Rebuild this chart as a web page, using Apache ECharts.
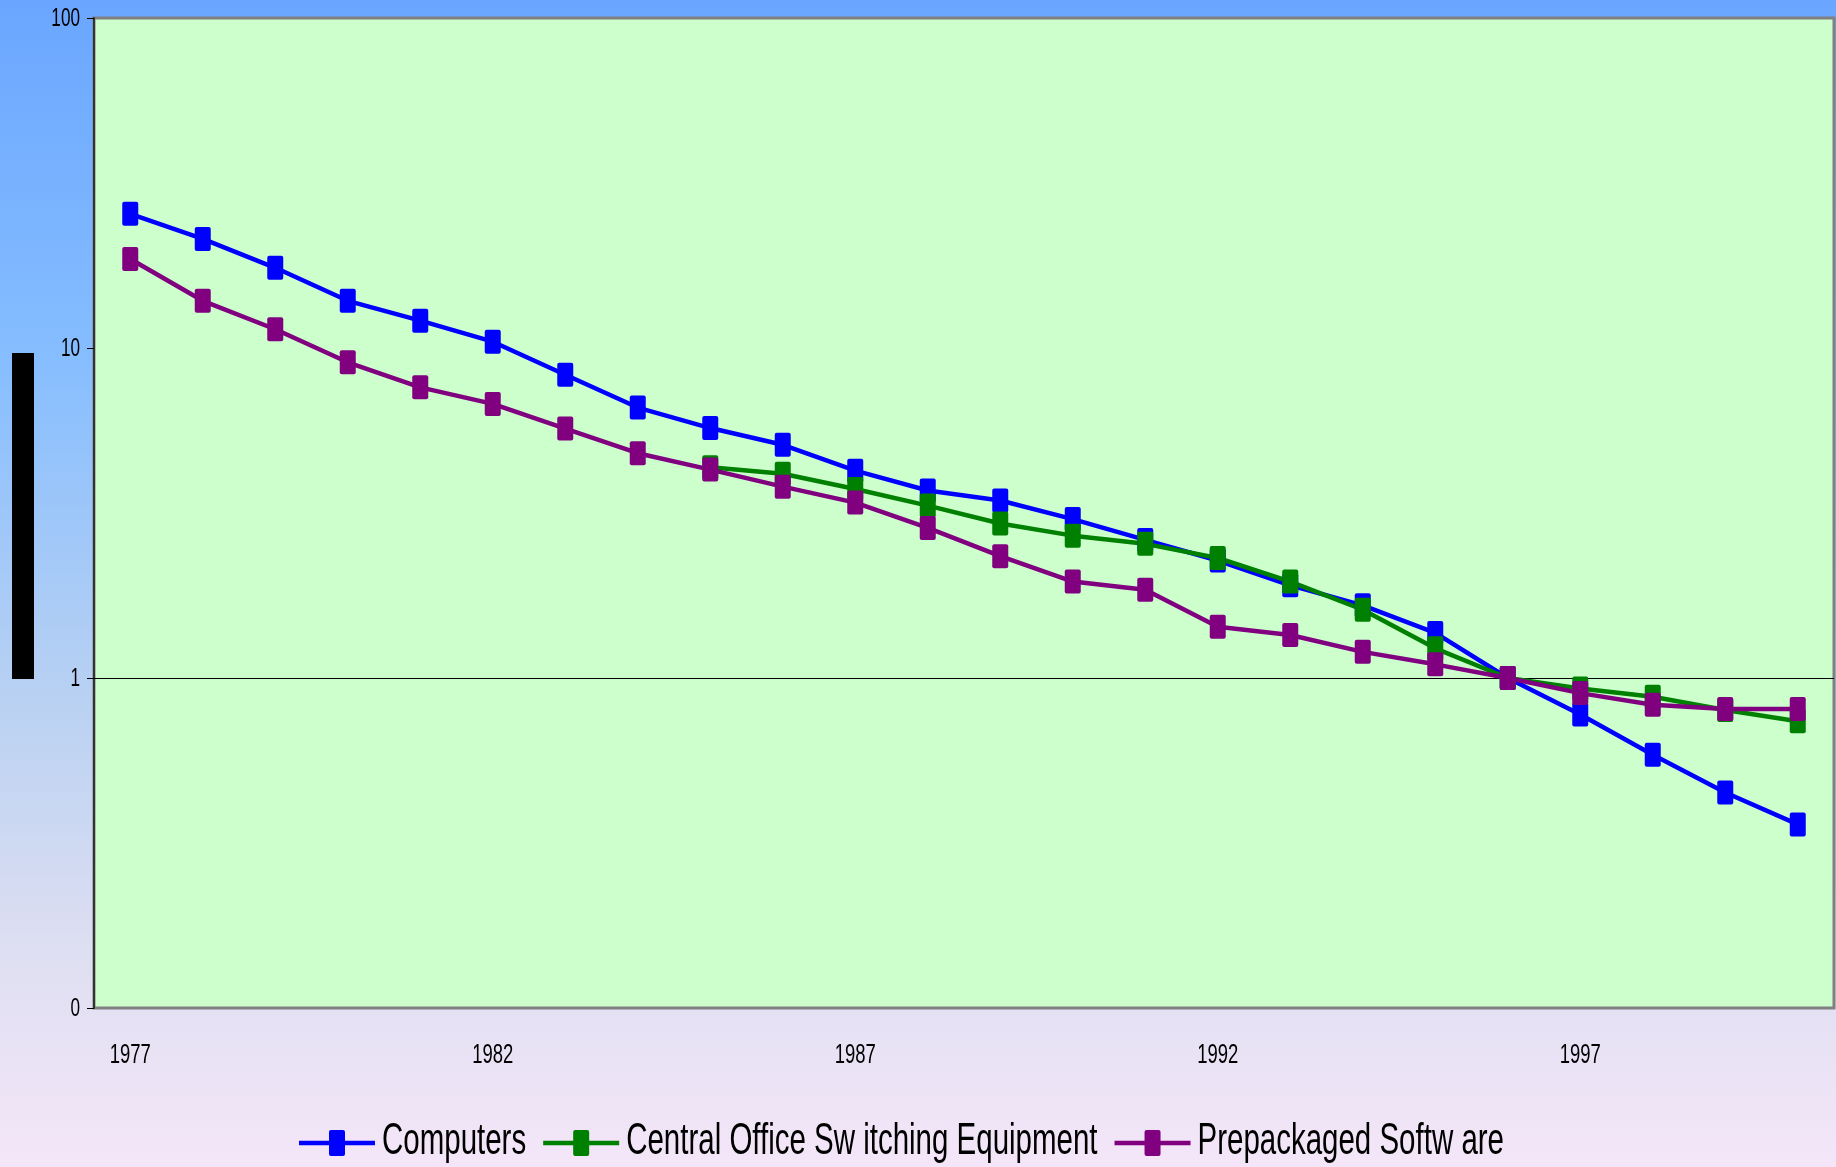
<!DOCTYPE html>
<html>
<head>
<meta charset="utf-8">
<style>
  html, body { margin: 0; padding: 0; width: 100%; height: 100%; overflow: hidden; }
  #chart { width: 1836px; height: 1167px; }
</style>
<script src="https://cdn.jsdelivr.net/npm/echarts@6/dist/echarts.min.js"></script>
</head>
<body>
<div id="chart"></div>
<script>
// Price indexes (1996 = 1), log scale
const years = ['1977','1978','1979','1980','1981','1982','1983','1984','1985','1986','1987','1988',
               '1989','1990','1991','1992','1993','1994','1995','1996','1997','1998','1999','2000'];

const computers = [25.5, 21.4, 17.5, 13.9, 12.1, 10.45, 8.3, 6.6, 5.72, 5.09, 4.25, 3.7,
                   3.45, 3.03, 2.62, 2.27, 1.91, 1.66, 1.37, 1.0, 0.775, 0.585, 0.45, 0.36];

const switching = [null, null, null, null, null, null, null, null, 4.35, 4.16, 3.74, 3.33,
                   2.94, 2.7, 2.55, 2.31, 1.96, 1.61, 1.23, 1.0, 0.93, 0.877, 0.8, 0.74];

const software = [18.6, 13.9, 11.4, 9.05, 7.6, 6.77, 5.7, 4.8, 4.28, 3.8, 3.4, 2.85,
                  2.34, 1.96, 1.85, 1.43, 1.35, 1.2, 1.1, 1.0, 0.9, 0.83, 0.805, 0.805];

// Axis tick labels
const xTickLabels = ['1977', '1982', '1987', '1992', '1997'];
const yTickValues = [0.1, 1, 10, 100];

const seriesNames = ['Computers', 'Central Office Sw itching Equipment', 'Prepackaged Softw are'];
const seriesColors = ['#0000ff', '#008000', '#800080'];

const FONT_FAMILY = "'Liberation Sans', Arial, sans-serif";
const NARROW = 0.66;          // horizontal squeeze for the condensed lettering
const MARKER = 'path://M2,0 H14 Q16,0 16,2 V22 Q16,24 14,24 H2 Q0,24 0,22 V2 Q0,0 2,0 Z';

const chart = echarts.init(document.getElementById('chart'), null, { renderer: 'canvas' });

function lineSeries(name, data, color, extra) {
  return Object.assign({
    name: name,
    type: 'line',
    data: data,
    symbol: MARKER,
    symbolSize: [16, 24],
    showAllSymbol: true,
    connectNulls: false,
    animation: false,
    itemStyle: { color: color, borderWidth: 0 },
    lineStyle: { color: color, width: 4.5 }
  }, extra || {});
}

chart.setOption({
  backgroundColor: {
    type: 'linear', x: 0, y: 0, x2: 0, y2: 1,
    colorStops: [
      { offset: 0, color: '#6aa6ff' },
      { offset: 0.3, color: '#85bdff' },
      { offset: 0.6, color: '#b9d1f2' },
      { offset: 0.82, color: '#dfdff2' },
      { offset: 1, color: '#f4e6f8' }
    ]
  },
  animation: false,
  grid: {
    left: 94, top: 18, right: 2, bottom: 159,
    show: true,
    backgroundColor: '#ccffcc',
    borderColor: '#808080',
    borderWidth: 3
  },
  legend: { show: false, data: seriesNames },
  xAxis: {
    type: 'category',
    data: years,
    boundaryGap: true,
    axisLine: { show: false },
    axisTick: { show: false },
    axisLabel: { show: false },
    splitLine: { show: false }
  },
  yAxis: {
    type: 'log',
    logBase: 10,
    min: 0.1,
    max: 100,
    axisLine: { show: true, lineStyle: { color: '#333333', width: 2 } },
    axisTick: { show: true, length: 7, lineStyle: { color: '#000000', width: 1 } },
    axisLabel: { show: false },
    splitLine: { show: false }
  },
  series: [
    lineSeries(seriesNames[0], computers, seriesColors[0], {
      markLine: {
        silent: true,
        symbol: 'none',
        label: { show: false },
        lineStyle: { color: '#000000', width: 1, type: 'solid' },
        data: [{ yAxis: 1 }],
        z: 1
      }
    }),
    lineSeries(seriesNames[1], switching, seriesColors[1]),
    lineSeries(seriesNames[2], software, seriesColors[2])
  ]
});

// Condensed text: drawn as graphic text squeezed horizontally
function narrowText(x, y, text, size, align, squeeze) {
  return {
    type: 'text',
    x: x, y: y,
    scaleX: squeeze || NARROW,
    silent: true,
    style: {
      text: text,
      font: size + 'px ' + FONT_FAMILY,
      fill: '#000000',
      align: align,
      verticalAlign: 'middle'
    }
  };
}

const measureCtx = document.createElement('canvas').getContext('2d');
function narrowWidth(text, size, squeeze) {
  measureCtx.font = size + 'px ' + FONT_FAMILY;
  return measureCtx.measureText(text).width * (squeeze || NARROW);
}

const graphics = [];

// y-axis title block
graphics.push({
  type: 'rect', silent: true,
  shape: { x: 12, y: 353, width: 22, height: 326 },
  style: { fill: '#000000' }
});

// y tick labels placed from the log scale
yTickValues.forEach(function (v) {
  const py = chart.convertToPixel({ yAxisIndex: 0 }, v);
  graphics.push(narrowText(80, py + 1, String(Math.round(v)), 26, 'right'));
});

// x tick labels placed from the category scale
const gridBottom = chart.convertToPixel({ yAxisIndex: 0 }, 0.1);
xTickLabels.forEach(function (label) {
  const px = chart.convertToPixel({ xAxisIndex: 0 }, label);
  graphics.push(narrowText(px, gridBottom + 47, label, 28, 'center'));
});

// legend row
const legendY = 1142;
const LEGEND_SQUEEZE = 0.67;
let lx = 299;
seriesNames.forEach(function (name, i) {
  const c = seriesColors[i];
  graphics.push({
    type: 'line', silent: true,
    shape: { x1: lx, y1: legendY + 1, x2: lx + 76, y2: legendY + 1 },
    style: { stroke: c, lineWidth: 4.5 }
  });
  graphics.push({
    type: 'rect', silent: true,
    shape: { x: lx + 30, y: legendY - 12, width: 16, height: 26, r: 2 },
    style: { fill: c }
  });
  const tx = lx + 83;
  graphics.push(narrowText(tx, legendY, name, 44, 'left', LEGEND_SQUEEZE));
  lx = tx + narrowWidth(name, 44, LEGEND_SQUEEZE) + 17;
});

chart.setOption({ graphic: graphics });
</script>
</body>
</html>
